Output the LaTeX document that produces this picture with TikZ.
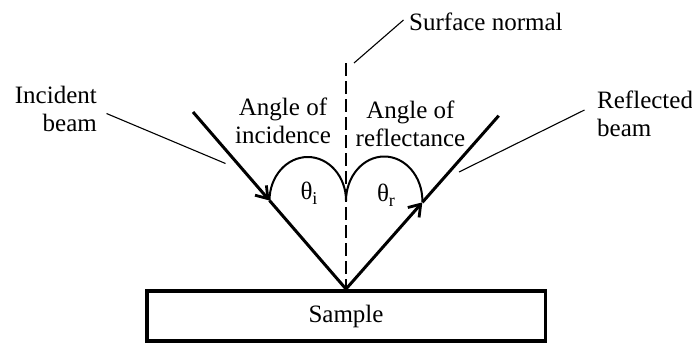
\documentclass[tikz,border=0pt]{standalone}
\usepackage{fontspec}
\setmainfont{Liberation Serif}
\usetikzlibrary{arrows.meta}
\newcommand{\mysub}[1]{\raisebox{-5pt}{\fontsize{18}{18}\selectfont #1}}
\begin{document}
\begin{tikzpicture}[x=1pt,y=-1pt,
  lbl/.style={inner sep=0pt, font=\fontsize{25}{28}\selectfont},
  beam/.style={line width=3pt},
  leader/.style={line width=1.1pt},
  tip/.style={-{Straight Barb[length=11pt,width=15pt,line width=2.8pt]}},
  loop/.style={line width=2pt},
  normal/.style={line width=2.9pt, dash pattern=on 13pt off 5pt}]
\useasboundingbox (0,0) rectangle (692,343);
% sample
\draw[line width=3.8pt] (147,291) rectangle (545.5,341);
\node[lbl] (sample) at (346,316) {Sample};
% key points
\coordinate (P) at (346,289);
\coordinate (I0) at (193,112);
\coordinate (Imid) at (269.5,200.5);
\coordinate (R1) at (498.7,115.7);
\coordinate (Rmid) at (422.35,202.35);
\coordinate (Ntop) at (346,63);
\coordinate (Nmid) at (346,201);
% normal
\draw[normal] (Ntop) -- (P);
% beams
\draw[beam,tip] (I0) -- (Imid);
\draw[beam] (Imid) -- (P);
\draw[beam,tip] (P) -- (Rmid);
\draw[beam] (Rmid) -- (R1);
% angle loops
\draw[loop] (Imid) arc[start angle=180,end angle=0,x radius=38.25pt,y radius=43.5pt];
\draw[loop] (Nmid) arc[start angle=180,end angle=0,x radius=38.2pt,y radius=44.5pt];
\node[lbl] (thi) at (309,193) {θ\mysub{i}};
\node[lbl] (thr) at (386,195) {θ\mysub{r}};
% labels
\node[lbl,align=center] (aoi) at (283,121) {Angle of\\incidence};
\node[lbl,align=center] (aor) at (410.5,123.5) {Angle of\\reflectance};
\node[lbl,align=right,anchor=east] (inc) at (97,109) {Incident\\beam};
\node[lbl,align=left,anchor=west] (refl) at (597,114) {Reflected\\beam};
\node[lbl,anchor=west] (sn) at (409,22) {Surface normal};
% leaders
\coordinate (incA) at (106.5,113.5);
\coordinate (incB) at (225.5,163.5);
\coordinate (refA) at (584.5,110);
\coordinate (refB) at (459,172);
\coordinate (snA) at (354,63);
\coordinate (snB) at (403.5,20);
\draw[leader] (incA) -- (incB);
\draw[leader] (refA) -- (refB);
\draw[leader] (snA) -- (snB);
\end{tikzpicture}
\end{document}
